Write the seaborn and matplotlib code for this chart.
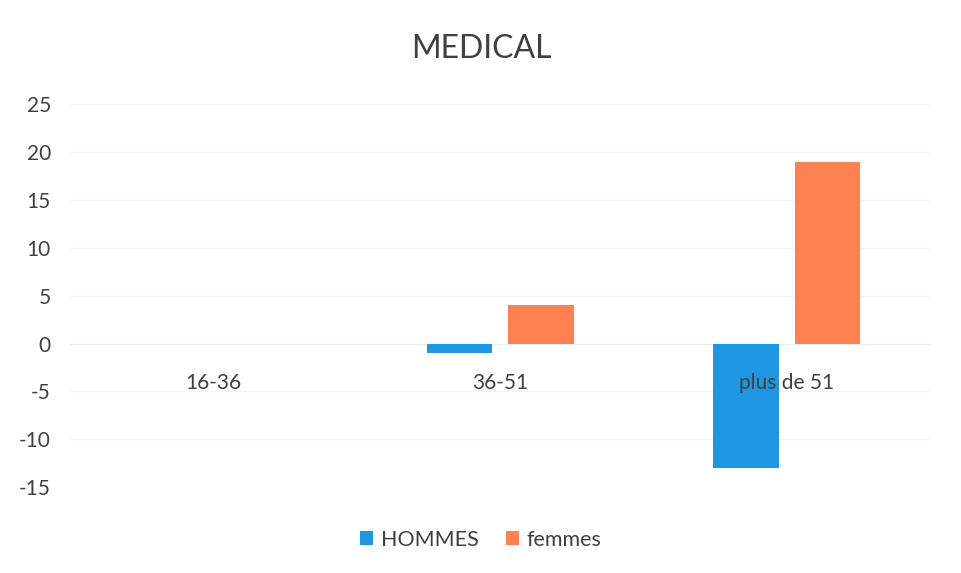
import pandas as pd
import seaborn as sns
import matplotlib
matplotlib.use("Agg")
import matplotlib.pyplot as plt

# data
age_groups = ["16-36", "36-51", "plus de 51"]
hommes = [0, -1, -13]
femmes = [0, 4, 19]
series_names = ["HOMMES", "femmes"]
y_ticks = [-15, -10, -5, 0, 5, 10, 15, 20, 25]

df = pd.DataFrame({
    "age": age_groups * 2,
    "value": hommes + femmes,
    "sexe": [series_names[0]] * 3 + [series_names[1]] * 3,
})

sns.set_style("white")
plt.rcParams["font.family"] = ["Lato", "DejaVu Sans"]
plt.rcParams["axes.unicode_minus"] = False

fig = plt.figure(figsize=(9.62, 5.73), dpi=100)
ax = fig.add_axes([0.073, 0.150, 0.894, 0.668])

sns.barplot(data=df, x="age", y="value", hue="sexe", ax=ax,
            palette=["#1E96E1", "#FF8050"], width=0.57, gap=0.2,
            saturation=1, errorbar=None, zorder=2, linewidth=0)

ax.set_xlim(-0.5, 2.5)
ax.set_ylim(-15, 25)
ax.set_yticks(y_ticks)
ax.set(xlabel="", ylabel="")
ax.grid(False)
# faint gridlines behind the bars, tick labels stay on top
for t in y_ticks:
    ax.axhline(t, color="#f3f3f3", linewidth=1, zorder=0)
ax.set_axisbelow(False)

for s in ["top", "right", "left"]:
    ax.spines[s].set_visible(False)
ax.spines["bottom"].set_position(("data", 0))
ax.spines["bottom"].set_color("#eeeeee")
ax.spines["bottom"].set_zorder(1)
ax.tick_params(axis="x", length=0, pad=21, labelsize=15, labelcolor="#404040")
ax.tick_params(axis="y", length=0, pad=14, labelsize=15, labelcolor="#404040")

fig.text(0.5, 0.915, "MEDICAL", ha="center", va="center",
         fontsize=23, color="#404040")

handles, labels = ax.get_legend_handles_labels()
ax.legend_.remove()
fig.legend(handles, labels, loc="center", bbox_to_anchor=(0.5, 0.058),
           ncol=2, frameon=False, fontsize=15.5, handlelength=0.6,
           handleheight=0.6, columnspacing=1.3, handletextpad=0.35,
           labelcolor="#404040")

fig.savefig("out.png", dpi=100)
